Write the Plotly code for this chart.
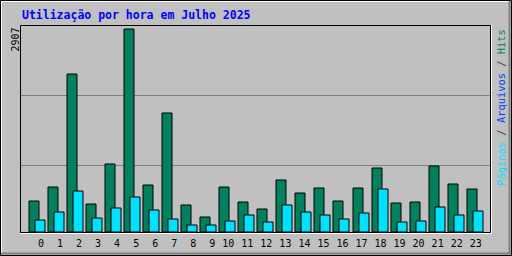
import plotly.graph_objects as go

hours = list(range(24))
hits = [444, 644, 2267, 401, 974, 2907, 673, 1708, 387, 215, 644, 430,
        329, 745, 558, 630, 444, 630, 916, 415, 430, 945, 687, 616]
pages = [172, 286, 587, 200, 344, 501, 315, 186, 100, 100, 158, 243,
         143, 387, 286, 243, 186, 272, 616, 143, 158, 358, 243, 301]
tick_labels = [f"{h:>2}".replace(" ", "\u00a0") for h in hours]
title_text = "Utilização por hora em Julho 2025"
max_label = "2907"

W, H = 512, 256
BG = "#C0C0C0"
HIT_C = "#00805C"
PAGE_C = "#00E0FF"
FILE_C = "#0040FF"

def px(x):
    return x / W

def py(y):
    return 1 - y / H

unit = 19.03
t0 = 38.0
x_left, x_right = 20.5, 490.5
y_top, y_bot = 25.5, 232.5
scale = 2907 / (232.5 - 29.5)
ymax = scale * (y_bot - y_top)

fig = go.Figure()
bar_w = 10 / unit
fig.add_trace(go.Bar(x=hours, y=hits, width=bar_w, offset=(29.5 - t0) / unit,
                     marker=dict(color=HIT_C, line=dict(color="black", width=1)),
                     name="Hits"))
fig.add_trace(go.Bar(x=hours, y=pages, width=bar_w, offset=(35.5 - t0) / unit,
                     marker=dict(color=PAGE_C, line=dict(color="black", width=1)),
                     name="Páginas"))

shapes = []
def line(x0, y0, x1, y1, color, width=1, layer="above"):
    shapes.append(dict(type="line", xref="paper", yref="paper",
                       x0=px(x0), y0=py(y0), x1=px(x1), y1=py(y1),
                       line=dict(color=color, width=width), layer=layer))

# grid lines
for gy in (95.5, 165.5):
    line(20.5, gy, 490.5, gy, "#808080", layer="below")
# inner frame
line(20.5, 25.5, 490.5, 25.5, "black")
line(20.5, 25.5, 20.5, 232.5, "black")
line(20.5, 232.5, 490.5, 232.5, "black")
line(490.5, 25.5, 490.5, 232.5, "black")
line(20.5, 233.5, 491.5, 233.5, "white")
line(491.5, 25.5, 491.5, 233.5, "white")
# outer border
line(1.5, 1.5, 510, 1.5, "white")
line(1.5, 1.5, 1.5, 254, "white")
line(1, 253.5, 511, 253.5, "#808080", width=2)
line(509.5, 1, 509.5, 254, "#808080", width=2)
shapes.append(dict(type="rect", xref="paper", yref="paper",
                   x0=px(0.5), y0=py(0.5), x1=px(511.5), y1=py(255.5),
                   line=dict(color="black", width=1), layer="above"))

annotations = [
    dict(text=title_text, xref="paper", yref="paper", x=px(20), y=py(15),
         xanchor="left", yanchor="middle", showarrow=False,
         font=dict(family="DejaVu Sans Mono", size=11.5, color="#0000FF", weight="bold")),
    dict(text=max_label, xref="paper", yref="paper", x=px(14.5), y=py(26),
         xanchor="center", yanchor="top", textangle=-90, showarrow=False,
         font=dict(family="DejaVu Sans Mono", size=10, color="black")),
    dict(text=(f"<span style='color:{PAGE_C}'>Páginas</span> / "
               f"<span style='color:{FILE_C}'>Arquivos</span> / "
               f"<span style='color:{HIT_C}'>Hits</span>"),
         xref="paper", yref="paper", x=px(500.7), y=py(28),
         xanchor="center", yanchor="top", textangle=-90, showarrow=False,
         font=dict(family="DejaVu Sans Mono", size=10.4, color="#404040")),
]

fig.update_layout(
    width=W, height=H, margin=dict(l=0, r=0, t=0, b=0),
    paper_bgcolor=BG, plot_bgcolor=BG, showlegend=False,
    barmode="overlay", bargap=0,
    shapes=shapes, annotations=annotations,
    xaxis=dict(domain=[px(x_left), px(x_right)],
               range=[(x_left - t0) / unit, (x_right - t0) / unit],
               tickvals=hours, ticktext=tick_labels, ticks="", showgrid=False,
               zeroline=False, showline=False, fixedrange=True,
               ticklabelstandoff=3,
               tickfont=dict(family="DejaVu Sans Mono", size=10, color="black")),
    yaxis=dict(domain=[py(y_bot), py(y_top)], range=[0, ymax],
               showticklabels=False, ticks="", showgrid=False, zeroline=False,
               showline=False, fixedrange=True),
)

fig.write_html("out.html", config={"displayModeBar": False})
